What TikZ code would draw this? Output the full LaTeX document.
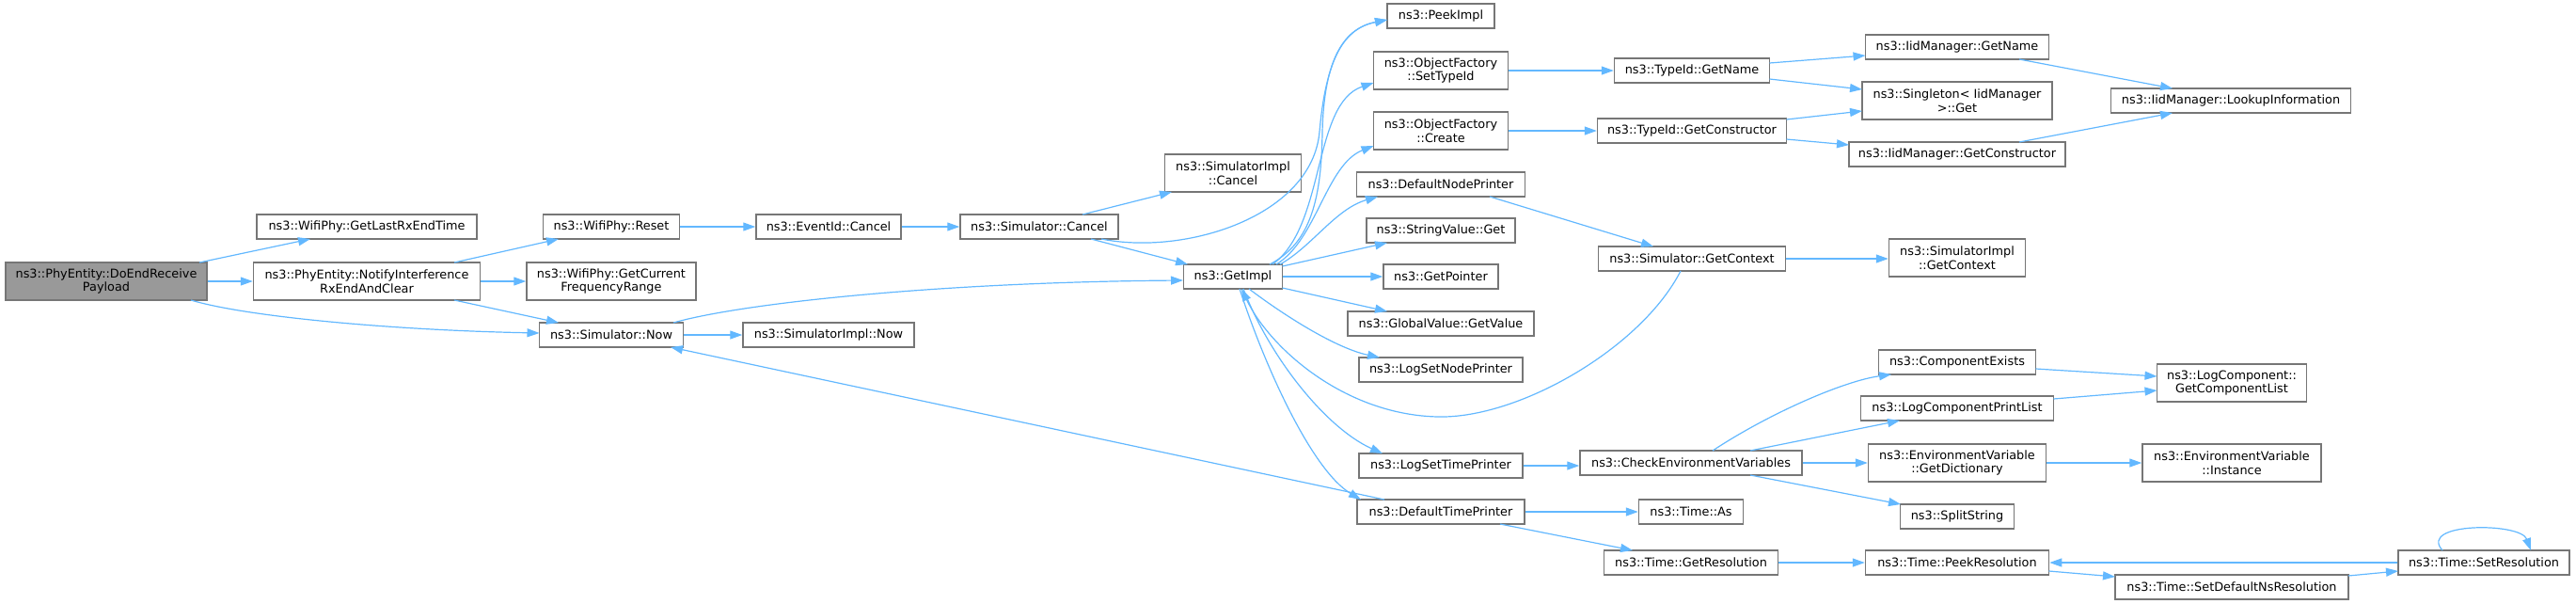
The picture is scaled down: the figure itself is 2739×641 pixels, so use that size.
\documentclass[tikz,border=0pt]{standalone}
\usepackage{fontspec}
\setmainfont{DejaVu Sans}
\usetikzlibrary{arrows.meta,calc}
\definecolor{edgec}{HTML}{63B8FF}
\definecolor{bord}{HTML}{767676}
\definecolor{rootfill}{HTML}{999999}
\begin{document}
\begin{tikzpicture}[x=1pt,y=-1pt,
  box/.style={draw=bord, line width=1.5pt, fill=white, inner sep=0pt, align=center,
    font=\fontsize{12.84}{14.5}\selectfont, text=black},
  sbox/.style={box, minimum height=26pt},
  dbox/.style={box, minimum height=40pt},
  cline/.style={draw=edgec, line width=1.2pt, -{Triangle[length=13pt,width=9pt,fill=edgec]}}]
\useasboundingbox (0,0) rectangle (2739,641);

% ---------- nodes ----------
\node[dbox,fill=rootfill,minimum width=214pt] (root) at (113,299) {ns3::PhyEntity::DoEndReceive\\Payload};
\node[sbox,minimum width=234pt] (lastrx) at (390,241) {ns3::WifiPhy::GetLastRxEndTime};
\node[dbox,minimum width=241pt] (notify) at (390,299) {ns3::PhyEntity::NotifyInterference\\RxEndAndClear};
\node[sbox,minimum width=145pt] (reset) at (650,241) {ns3::WifiPhy::Reset};
\node[dbox,minimum width=180pt] (freq) at (650,299) {ns3::WifiPhy::GetCurrent\\FrequencyRange};
\node[sbox,minimum width=153pt] (now) at (650,356) {ns3::Simulator::Now};
\node[sbox,minimum width=154pt] (evcancel) at (881,241) {ns3::EventId::Cancel};
\node[sbox,minimum width=182pt] (implnow) at (881,356) {ns3::SimulatorImpl::Now};
\node[sbox,minimum width=168pt] (simcancel) at (1105,241) {ns3::Simulator::Cancel};
\node[dbox,minimum width=145pt] (implcancel) at (1311,184) {ns3::SimulatorImpl\\::Cancel};
\node[sbox,minimum width=105pt] (getimpl) at (1311,294) {ns3::GetImpl};

\node[sbox,minimum width=114pt] (peek) at (1532,17) {ns3::PeekImpl};
\node[dbox,minimum width=143pt] (settype) at (1532,75) {ns3::ObjectFactory\\::SetTypeId};
\node[dbox,minimum width=143pt] (create) at (1532,139) {ns3::ObjectFactory\\::Create};
\node[sbox,minimum width=179pt] (nodeprn) at (1532,196) {ns3::DefaultNodePrinter};
\node[sbox,minimum width=158pt] (strval) at (1532,245) {ns3::StringValue::Get};
\node[sbox,minimum width=122pt] (getptr) at (1532,294) {ns3::GetPointer};
\node[sbox,minimum width=198pt] (globval) at (1532,344) {ns3::GlobalValue::GetValue};
\node[sbox,minimum width=174pt] (lognode) at (1532,393) {ns3::LogSetNodePrinter};
\node[sbox,minimum width=174pt] (logtime) at (1532,495) {ns3::LogSetTimePrinter};
\node[sbox,minimum width=178pt] (timeprn) at (1532,544) {ns3::DefaultTimePrinter};

\node[sbox,minimum width=165pt] (tidname) at (1799,75) {ns3::TypeId::GetName};
\node[sbox,minimum width=201pt] (tidctor) at (1799,139) {ns3::TypeId::GetConstructor};
\node[sbox,minimum width=199pt] (getctx) at (1799,275) {ns3::Simulator::GetContext};
\node[sbox,minimum width=236pt] (checkenv) at (1798,492) {ns3::CheckEnvironmentVariables};
\node[sbox,minimum width=111pt] (timeas) at (1798,544) {ns3::Time::As};
\node[sbox,minimum width=185pt] (getres) at (1798,598) {ns3::Time::GetResolution};

\node[sbox,minimum width=195pt] (iidname) at (2081,50) {ns3::IidManager::GetName};
\node[dbox,minimum width=202pt] (singleton) at (2081,107) {ns3::Singleton< IidManager\\>::Get};
\node[sbox,minimum width=230pt] (iidctor) at (2081,164) {ns3::IidManager::GetConstructor};
\node[dbox,minimum width=145pt] (implctx) at (2081,274) {ns3::SimulatorImpl\\::GetContext};
\node[sbox,minimum width=167pt] (compex) at (2081,385) {ns3::ComponentExists};
\node[sbox,minimum width=205pt] (logprint) at (2081,434) {ns3::LogComponentPrintList};
\node[dbox,minimum width=189pt] (getdict) at (2081,492) {ns3::EnvironmentVariable\\::GetDictionary};
\node[sbox,minimum width=121pt] (split) at (2081,549) {ns3::SplitString};
\node[sbox,minimum width=195pt] (peekres) at (2081,598) {ns3::Time::PeekResolution};

\node[sbox,minimum width=255pt] (lookup) at (2372,107) {ns3::IidManager::LookupInformation};
\node[dbox,minimum width=159pt] (complist) at (2373,407) {ns3::LogComponent::\\GetComponentList};
\node[dbox,minimum width=190pt] (instance) at (2373,492) {ns3::EnvironmentVariable\\::Instance};
\node[sbox,minimum width=248pt] (setdefns) at (2373,624) {ns3::Time::SetDefaultNsResolution};
\node[sbox,minimum width=182pt] (setres) at (2641,598) {ns3::Time::SetResolution};

% ---------- connectors ----------
\draw[cline] ($(root)+(99,-20)$) -- ($(lastrx)+(-60,13)$);
\draw[cline] (root.east) -- (notify.west);
\draw[cline] ($(root)+(90,20)$) .. controls ($(root)+(150,38)$) and ($(now)+(-230,-5)$) .. ($(now)+(-76.5,-2)$);
\draw[cline] ($(notify)+(93,-20)$) -- ($(reset)+(-56,13)$);
\draw[cline] (notify.east) -- (freq.west);
\draw[cline] ($(notify)+(93,20)$) -- ($(now)+(-56,-13)$);
\draw[cline] (reset.east) -- (evcancel.west);
\draw[cline] (evcancel.east) -- (simcancel.west);
\draw[cline] (now.east) -- (implnow.west);
\draw[cline] ($(simcancel)+(46,-13)$) -- ($(implcancel)+(-65,20)$);
\draw[cline] ($(simcancel)+(55,13)$) -- ($(getimpl)+(-48,-13)$);
\draw[cline] ($(simcancel)+(66,13)$) .. controls ($(simcancel)+(155,31)$) and ($(getimpl)+(84,-64)$) .. ($(getimpl)+(92,-154)$)
   .. controls ($(getimpl)+(99,-234)$) and ($(peek)+(-102,13)$) .. ($(peek)+(-57,4)$);
\draw[cline] ($(now)+(66,-13)$) .. controls ($(now)+(140,-34)$) and ($(getimpl)+(-311,6)$) .. ($(getimpl)+(-53,4)$);

% GetImpl fan-out
\draw[cline] ($(getimpl)+(39,-13)$) .. controls ($(getimpl)+(79,-34)$) and ($(getimpl)+(94,-74)$) .. ($(getimpl)+(95,-154)$)
   .. controls ($(getimpl)+(97,-234)$) and ($(peek)+(-102,13)$) .. ($(peek)+(-57,4)$);
\draw[cline] ($(getimpl)+(42,-13)$) .. controls ($(getimpl)+(99,-54)$) and ($(settype)+(-137,35)$) .. ($(settype)+(-71.5,13)$);
\draw[cline] ($(getimpl)+(46,-13)$) .. controls ($(getimpl)+(89,-39)$) and ($(create)+(-122,36)$) .. ($(create)+(-71.5,16)$);
\draw[cline] ($(getimpl)+(50,-13)$) .. controls ($(getimpl)+(84,-32)$) and ($(nodeprn)+(-112,26)$) .. ($(nodeprn)+(-67,13)$);
\draw[cline] ($(getimpl)+(52.5,-11)$) -- ($(strval)+(-57,13)$);
\draw[cline] (getimpl.east) -- (getptr.west);
\draw[cline] ($(getimpl)+(52.5,12)$) -- ($(globval)+(-57,-13)$);
\draw[cline] ($(getimpl)+(17,13)$) .. controls ($(getimpl)+(54,41)$) and ($(lognode)+(-112,-23)$) .. ($(lognode)+(-65,-13)$);
\draw[cline] ($(getimpl)+(11,13)$) .. controls ($(getimpl)+(39,86)$) and ($(logtime)+(-122,-40)$) .. ($(logtime)+(-62,-13)$);
\draw[cline] ($(getimpl)+(7,13)$) .. controls ($(getimpl)+(34,96)$) and ($(timeprn)+(-137,-44)$) .. ($(timeprn)+(-85,-13)$);
\draw[cline] ($(getctx)+(-12,13)$) .. controls ($(getctx)+(-54,95)$) and ($(getctx)+(-184,170)$) .. ($(getimpl)+(218,149)$)
   .. controls ($(getimpl)+(119,147)$) and ($(getimpl)+(39,76)$) .. ($(getimpl)+(9,13)$);
\draw[cline] ($(timeprn)+(-60,-13)$) -- ($(now)+(63,13)$);

\draw[cline] ($(nodeprn)+(52,13)$) -- ($(getctx)+(-41,-13)$);
\draw[cline] (getctx.east) -- (getctx.east -| implctx.west);
\draw[cline] (settype.east) -- (tidname.west);
\draw[cline] (create.east) -- (tidctor.west);
\draw[cline] ($(tidname)+(82.5,-8)$) -- ($(iidname)+(-97.5,9)$);
\draw[cline] ($(tidname)+(82.5,9)$) -- ($(singleton)+(-101,-12)$);
\draw[cline] ($(tidctor)+(100.5,-12)$) -- ($(singleton)+(-101,11)$);
\draw[cline] ($(tidctor)+(100.5,9)$) -- ($(iidctor)+(-115,-10)$);
\draw[cline] ($(iidname)+(66,13)$) -- ($(lookup)+(-62,-13)$);
\draw[cline] ($(iidctor)+(66,-13)$) -- ($(lookup)+(-62,13)$);

\draw[cline] (logtime.east) -- (logtime.east -| checkenv.west);
\draw[cline] ($(checkenv)+(23,-13)$) .. controls ($(checkenv)+(82,-52)$) and ($(compex)+(-121,20)$) .. ($(compex)+(-70,13)$);
\draw[cline] ($(checkenv)+(63,-13)$) -- ($(logprint)+(-61,13)$);
\draw[cline] (checkenv.east) -- (getdict.west);
\draw[cline] ($(checkenv)+(63,13)$) -- ($(split)+(-60,-13)$);
\draw[cline] ($(compex)+(83.5,7)$) -- ($(complist)+(-79.5,-7)$);
\draw[cline] ($(logprint)+(102.5,-10)$) -- ($(complist)+(-79.5,8)$);
\draw[cline] (getdict.east) -- (instance.west);

\draw[cline] (timeprn.east) -- (timeas.west);
\draw[cline] ($(timeprn)+(63,13)$) -- ($(getres)+(-62,-13)$);
\draw[cline] (getres.east) -- (peekres.west);
\draw[cline] ($(peekres)+(97.5,9)$) -- ($(setdefns)+(-124,-11)$);
\draw[cline] ($(setdefns)+(124,-12)$) -- ($(setres)+(-91,9)$);
\draw[cline] (setres.west) -- (peekres.east);
\draw[cline] ($(setres)+(-44,-13)$) .. controls ($(setres)+(-71,-43)$) and ($(setres)+(39,-43)$) .. ($(setres)+(50,-13)$);
\end{tikzpicture}
\end{document}
